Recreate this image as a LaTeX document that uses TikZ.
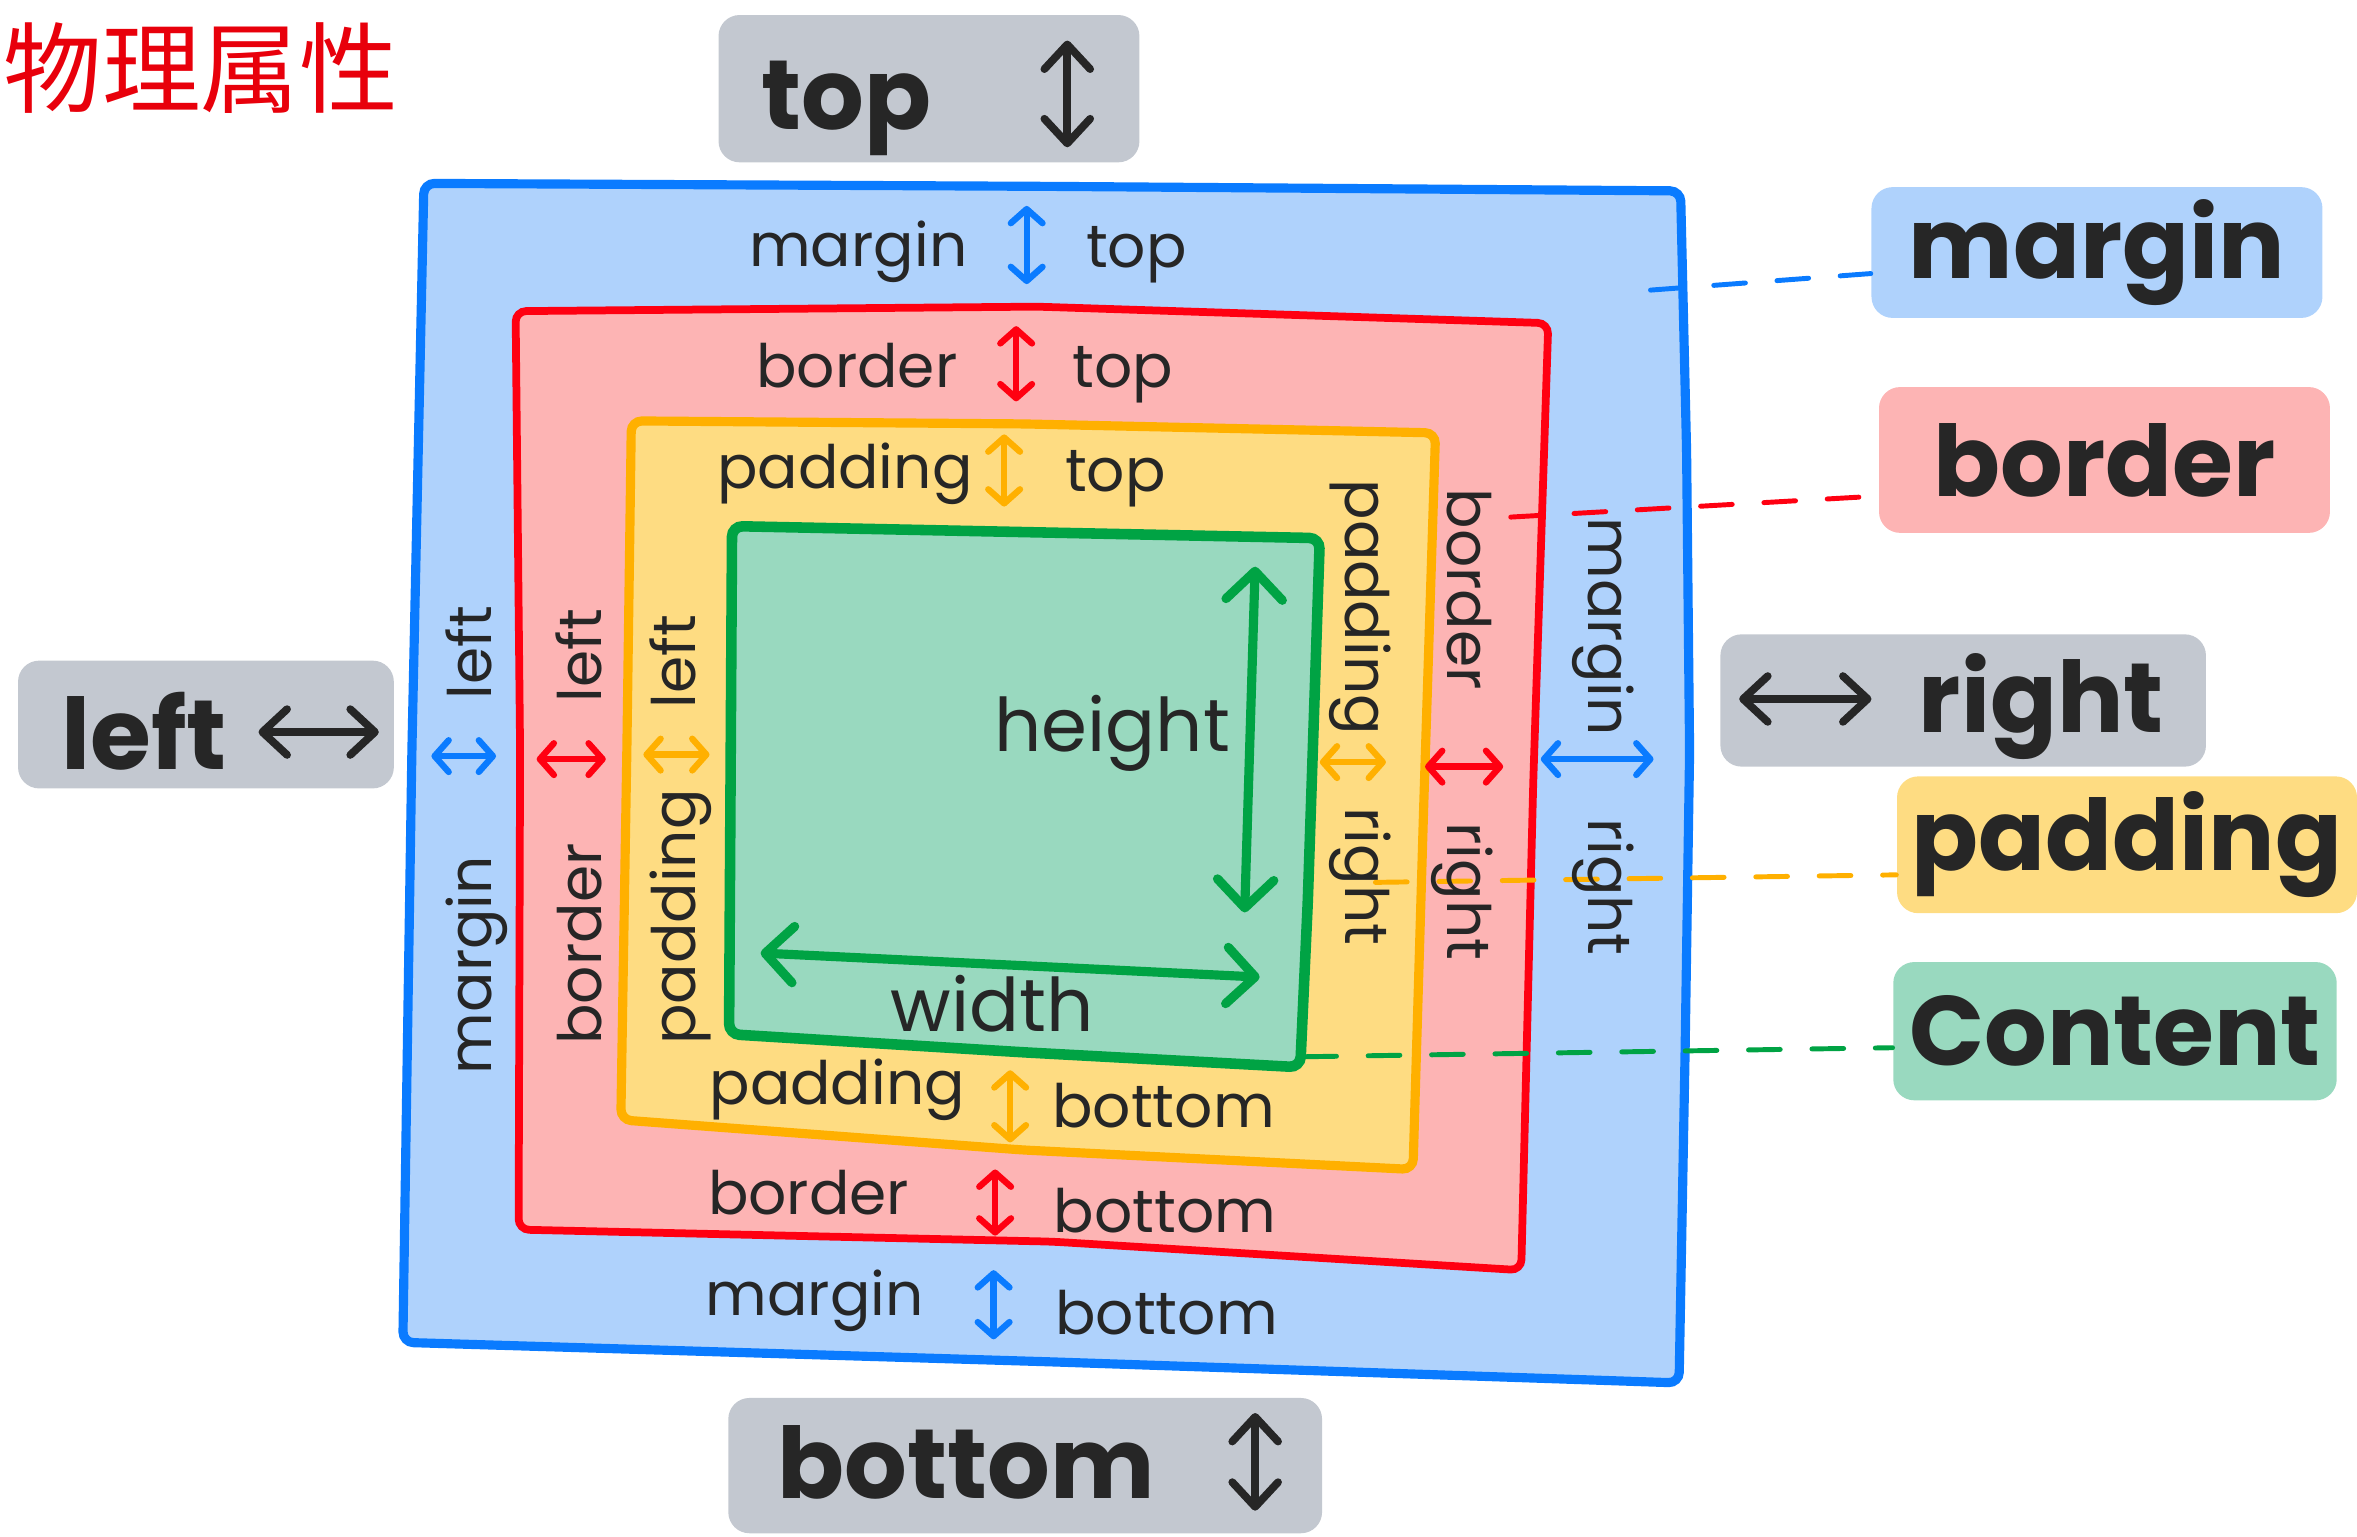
\documentclass[tikz,border=0pt]{standalone}
\usepackage{fontspec}
\setmainfont{Poppins}
\newfontfamily\cjk{Noto Sans CJK SC}
\usetikzlibrary{arrows.meta,calc}
\definecolor{mstroke}{HTML}{0A7BFF}
\definecolor{mfill}{HTML}{AFD2FC}
\definecolor{bstroke}{HTML}{FF0011}
\definecolor{bfill}{HTML}{FDB4B4}
\definecolor{pstroke}{HTML}{FFB000}
\definecolor{pfill}{HTML}{FEDC82}
\definecolor{cstroke}{HTML}{00A344}
\definecolor{cfill}{HTML}{99D9BF}
\definecolor{gbox}{HTML}{C3C8D0}
\definecolor{ink}{HTML}{262626}
\definecolor{titlered}{HTML}{E8000B}
\begin{document}
\begin{tikzpicture}[x=0.015cm,y=-0.015cm,
 small/.style={font=\fontsize{17}{19}\selectfont, text=ink, inner sep=0pt},
 mid/.style={font=\fontsize{21}{23}\selectfont, text=ink, inner sep=0pt},
 big/.style={font=\bfseries\fontsize{28}{30}\selectfont, text=ink, inner sep=0pt},
 lblbox/.style={rounded corners=6pt, inner sep=0pt, font=\bfseries\fontsize{28}{30}\selectfont, text=ink},
 graybox/.style={fill=gbox, rounded corners=6pt, inner sep=0pt},
 tinyarr/.style={line width=1.8pt, line cap=round, arrows={Straight Barb[round,length=4pt,width=9pt]-Straight Barb[round,length=4pt,width=9pt]}},
 bigarr/.style={line width=2.6pt, line cap=round, draw=cstroke, arrows={Straight Barb[round,length=8pt,width=16pt]-Straight Barb[round,length=8pt,width=16pt]}},
 blkarr/.style={line width=2.2pt, line cap=round, draw=ink, arrows={Straight Barb[round,length=7pt,width=13pt]-Straight Barb[round,length=7pt,width=13pt]}},
 conn/.style={line width=1.4pt, dash pattern=on 9pt off 9pt, line cap=round},
]
\useasboundingbox (0,0) rectangle (1568,1022);
\clip (0,0) rectangle (1568,1022);

% title
\node[anchor=west, inner sep=0pt, text=titlered, font=\cjk\fontsize{28}{30}\selectfont] (title) at (2,45) {物理属性};

% nested boxes
\path[draw=mstroke, fill=mfill, line width=2.6pt, rounded corners=3pt] (282,122) -- (700,124) -- (1118,127) -- (1122,300) -- (1124,500) -- (1121,700) -- (1117,920) -- (700,906) -- (268,893) -- (274,500) -- cycle;
\path[draw=bstroke, fill=bfill, line width=2.2pt, rounded corners=3pt] (343,207) -- (690,204) -- (1030,215) -- (1020,520) -- (1012,845) -- (700,826) -- (345,818) -- (346,500) -- cycle;
\path[draw=pstroke, fill=pfill, line width=2.6pt, rounded corners=3pt] (420,280) -- (680,282) -- (955,288) -- (947,540) -- (940,778) -- (680,765) -- (413,745) -- (417,500) -- cycle;
\path[draw=cstroke, fill=cfill, line width=3pt, rounded corners=3pt] (487,350) -- (878,358) -- (870,600) -- (865,710) -- (680,700) -- (485,688) -- cycle;

% legend labels
\node[lblbox, fill=mfill, minimum width=4.5cm, minimum height=1.305cm] (mlbl) at (1395,168) {margin};
\node[lblbox, fill=bfill, minimum width=4.5cm, minimum height=1.455cm] (blbl) at (1400,306) {border};
\node[lblbox, fill=pfill, minimum width=4.59cm, minimum height=1.365cm] (plbl) at (1415,562) {padding};
\node[lblbox, fill=cfill, minimum width=4.425cm, minimum height=1.38cm] (clbl) at (1407,686) {Content};

% dashed connectors
\coordinate (mdash) at (1098,193);
\coordinate (bdash) at (1005,344);
\coordinate (pdash) at (915,587);
\coordinate (cdash) at (868,703);
\draw[conn, draw=mstroke] (mdash) -- ($(mlbl.west)+(0,14)$);
\draw[conn, draw=bstroke] (bdash) -- ($(blbl.west)+(0,24)$);
\draw[conn, draw=pstroke] (pdash) -- ($(plbl.west)+(0,20)$);
\draw[conn, draw=cstroke] (cdash) -- ($(clbl.west)+(0,11)$);

% top labels
\node[small, anchor=base] (mtA) at (571,177) {margin};
\draw[tinyarr, draw=mstroke] (683,137) -- (683,189);
\node[small, anchor=base] (mtB) at (756,178) {top};
\node[small, anchor=base] (btA) at (570,258) {border};
\draw[tinyarr, draw=bstroke] (676,217) -- (676,267);
\node[small, anchor=base] (btB) at (747,258) {top};
\node[small, anchor=base] (ptA) at (562,325) {padding};
\draw[tinyarr, draw=pstroke] (668,289) -- (668,337);
\node[small, anchor=base] (ptB) at (742,327) {top};

% bottom labels
\node[small, anchor=base] (pbA) at (557,735) {padding};
\draw[tinyarr, draw=pstroke] (672,712) -- (672,760);
\node[small, anchor=base] (pbB) at (774,750) {bottom};
\node[small, anchor=base] (bbA) at (538,808) {border};
\draw[tinyarr, draw=bstroke] (662,778) -- (662,822);
\node[small, anchor=base] (bbB) at (775,820) {bottom};
\node[small, anchor=base] (mbA) at (542,875) {margin};
\draw[tinyarr, draw=mstroke] (661,845) -- (661,891);
\node[small, anchor=base] (mbB) at (776,888) {bottom};

% left columns
\node[small, anchor=base, rotate=90] (mlA) at (327,434) {left};
\draw[tinyarr, draw=mstroke] (287,503) -- (330,503);
\node[small, anchor=base, rotate=90] (mlB) at (327,642) {margin};
\node[small, anchor=base, rotate=90] (blA) at (400,436) {left};
\draw[tinyarr, draw=bstroke] (357,505) -- (403,505);
\node[small, anchor=base, rotate=90] (blB) at (400,628) {border};
\node[small, anchor=base, rotate=90] (plA) at (463,440) {left};
\draw[tinyarr, draw=pstroke] (428,502) -- (472,502);
\node[small, anchor=base, rotate=90] (plB) at (463,610) {padding};

% right columns
\node[small, anchor=base, rotate=-90] (prA) at (895,404) {padding};
\draw[tinyarr, draw=pstroke] (878,507) -- (922,507);
\node[small, anchor=base, rotate=-90] (prB) at (895,583) {right};
\node[small, anchor=base, rotate=-90] (brA) at (963,392) {border};
\draw[tinyarr, draw=bstroke] (948,510) -- (1000,510);
\node[small, anchor=base, rotate=-90] (brB) at (963,593) {right};
\node[small, anchor=base, rotate=-90] (mrA) at (1057,417) {margin};
\draw[tinyarr, draw=mstroke] (1025,505) -- (1100,505);
\node[small, anchor=base, rotate=-90] (mrB) at (1057,590) {right};

% content
\node[mid] (heightlbl) at (740,488) {height};
\draw[bigarr] (835,377) -- (828,607);
\node[mid] (widthlbl) at (660,668) {width};
\draw[bigarr] (506,634) -- (838,650);

% gray boxes
\node[graybox, minimum width=4.2cm, minimum height=1.47cm] (topbox) at (618,59) {};
\node[big, anchor=base] (toptxt) at (563,86) {top};
\draw[blkarr] (710,27) -- (710,98);

\node[graybox, minimum width=3.75cm, minimum height=1.275cm] (leftbox) at (137,482) {};
\node[big, anchor=base] (lefttxt) at (96,512) {left};
\draw[blkarr] (172,487) -- (252,487);

\node[graybox, minimum width=4.845cm, minimum height=1.32cm] (rightbox) at (1306,466) {};
\draw[blkarr] (1157,465) -- (1245,465);
\node[big, anchor=base] (righttxt) at (1358,487) {right};

\node[graybox, minimum width=5.925cm, minimum height=1.35cm] (bottombox) at (682,975) {};
\node[big, anchor=base] (bottomtxt) at (643,997) {bottom};
\draw[blkarr] (835,940) -- (835,1005);
\end{tikzpicture}
\end{document}
